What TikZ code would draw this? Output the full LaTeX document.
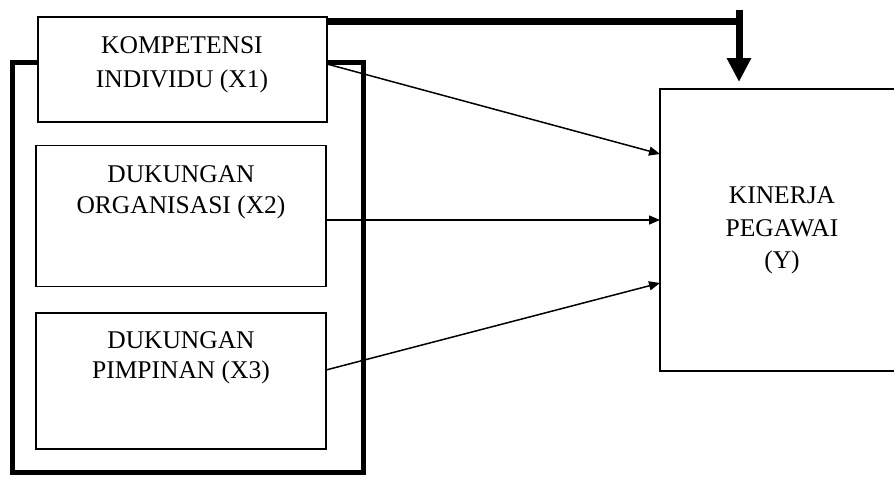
\documentclass[tikz,border=0pt]{standalone}
\usepackage{fontspec}
\setmainfont{Liberation Serif}
\usetikzlibrary{arrows.meta}
\begin{document}
\begin{tikzpicture}[x=1pt,y=-1pt,
  box/.style={draw=black, line width=1.6pt, fill=white, inner sep=0pt, rectangle},
  frame/.style={draw=black, line width=5pt},
  txt/.style={anchor=base, inner sep=0pt, font=\fontsize{25.5}{30}\selectfont},
  link/.style={draw=black, line width=1.5pt, -{Triangle[length=11pt,width=9pt]}},
  bigarrow/.style={draw=black, line width=7pt}]
\clip (0,0) rectangle (894,477);
\fill[white] (0,0) rectangle (894,477);

% outer frame around the three independent variables
\draw[frame] (12,62) rectangle (363,472);

% independent variables
\node[box, minimum width=289pt, minimum height=105pt] (X1) at (182.5,69.5) {};
\node[box, minimum width=290pt, minimum height=141pt] (X2) at (181,216) {};
\node[box, minimum width=290pt, minimum height=136pt] (X3) at (181,381) {};

\node[txt] (x1a) at (182,53) {KOMPETENSI};
\node[txt] (x1b) at (182,87) {INDIVIDU (X1)};
\node[txt] (x2a) at (181,182) {DUKUNGAN};
\node[txt] (x2b) at (181,213) {ORGANISASI (X2)};
\node[txt] (x3a) at (181,348) {DUKUNGAN};
\node[txt] (x3b) at (181,378) {PIMPINAN (X3)};

% dependent variable
\node[box, minimum width=245pt, minimum height=282pt] (Y) at (782.5,230) {};
\node[txt] (ya) at (782,203) {KINERJA};
\node[txt] (yb) at (782,236) {PEGAWAI};
\node[txt] (yc) at (782,268) {(Y)};

% thick joint-effect arrow
\coordinate (jointR) at (743,21);
\coordinate (jointT) at (739,10);
\coordinate (jointTip) at (739,82);
\draw[bigarrow] (X1.north east |- jointR) -- (jointR);
\draw[bigarrow, -{Triangle[length=24pt,width=23pt]}] (jointT) -- (jointTip);

% partial-effect arrows
\coordinate (s1) at (327,64);
\coordinate (t1) at (660,154);
\coordinate (s2) at (326,220);
\coordinate (t2) at (660,220);
\coordinate (s3) at (326,370);
\coordinate (t3) at (660,283);
\draw[link] (s1) -- (t1);
\draw[link] (s2) -- (t2);
\draw[link] (s3) -- (t3);
\end{tikzpicture}
\end{document}
